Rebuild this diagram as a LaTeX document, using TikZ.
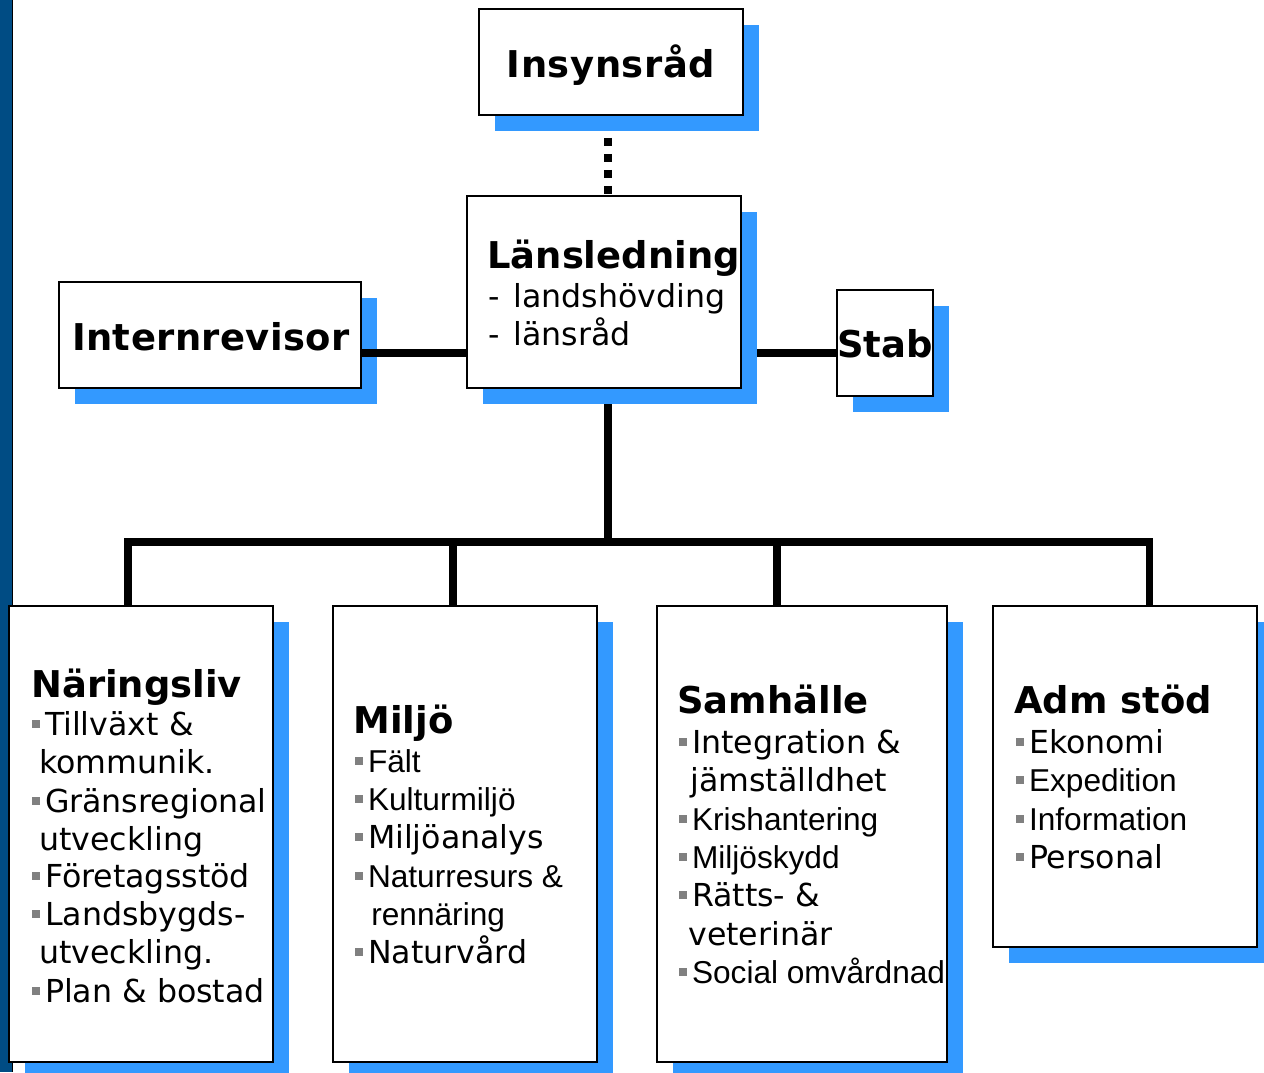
\documentclass[tikz,border=0pt]{standalone}
\usepackage{fontspec}
\setmainfont{DejaVu Sans}
\newfontfamily\ar{Liberation Sans}
\usetikzlibrary{shadows,backgrounds}
\definecolor{shad}{RGB}{51,153,255}
\definecolor{barblue}{RGB}{0,76,132}
\definecolor{bulgray}{RGB}{128,128,128}
\newcommand\bul{\textcolor{bulgray}{\rule[4.1pt]{4.6pt}{4.6pt}}\hspace{2.6pt}}
\begin{document}
\begin{tikzpicture}[x=0.02cm,y=-0.02cm,
 box/.style={draw=black, line width=1.2pt, fill=white, inner sep=0pt,
   general shadow={fill=shad, shadow xshift=0.32cm, shadow yshift=-0.32cm}},
 head/.style={inner sep=0pt, anchor=base west, font=\fontsize{21}{25}\selectfont\bfseries},
 item/.style={inner sep=0pt, anchor=base west, font=\fontsize{18}{22}\selectfont},
 conn/.style={line width=4pt},
 dots/.style={line width=4.5pt, dash pattern=on 4.54pt off 4.54pt, dash phase=5.67pt}]
\useasboundingbox (0,0) rectangle (1264,1072);
\clip (0,0) rectangle (1264,1072);
\fill[barblue] (0,0) rectangle (12,1072);
\draw[line width=0.6pt] (12.5,0) -- (12.5,1072);

% boxes
\node[box, minimum width=5.28cm, minimum height=2.12cm] (ins) at (611,62) {};
\node[box, minimum width=5.48cm, minimum height=3.84cm] (lans) at (604,292) {};
\node[box, minimum width=6.04cm, minimum height=2.12cm] (intrev) at (210,335) {};
\node[box, minimum width=1.92cm, minimum height=2.12cm] (stab) at (885,343) {};
\node[box, minimum width=5.28cm, minimum height=9.12cm] (nar) at (141,834) {};
\node[box, minimum width=5.28cm, minimum height=9.12cm] (milj) at (465,834) {};
\node[box, minimum width=5.80cm, minimum height=9.12cm] (samh) at (802,834) {};
\node[box, minimum width=5.28cm, minimum height=6.82cm] (adm) at (1125,776.5) {};

% connectors
\coordinate (bus) at (608,542);
\coordinate (hy) at (0,353);
\coordinate (d1) at (128,606);
\coordinate (d2) at (453,606);
\coordinate (d3) at (777,606);
\coordinate (d4) at (1149,606);
\begin{scope}[on background layer]
\draw[dots] (ins.south -| bus) -- (lans.north -| bus);
\draw[conn] (lans.south -| bus) -- (bus);
\draw[conn] (d1) |- (bus) -| (d4);
\draw[conn] (d2) -- (d2 |- bus);
\draw[conn] (d3) -- (d3 |- bus);
\draw[conn] (lans.east |- hy) -- (stab.west |- hy);
\end{scope}
\draw[conn] (intrev.east |- hy) -- (lans.west |- hy);

% top texts
\node[head, anchor=base] (tins) at (611,77) {\addfontfeature{LetterSpace=1.5}Insynsråd};
\node[head, anchor=base] (tint) at (211,350) {\addfontfeature{LetterSpace=1.2}Internrevisor};
\node[head, anchor=base] (tstab) at (885,357) {Stab};
\node[head, font=\fontsize{21}{25}\selectfont\bfseries] (tlans) at (487,268) {Länsledning};
\node[item] (tl1) at (488,307) {-\ \hspace{2pt}landshövding};
\node[item] (tl2) at (488,345) {-\ \hspace{2pt}länsråd};

% Näringsliv
\node[head] (hn) at (31,697) {Näringsliv};
\node[item] (n1) at (32,735) {\bul Tillväxt \&};
\node[item] (n2) at (39,773) {kommunik.};
\node[item] (n3) at (32,812) {\bul Gränsregional};
\node[item] (n4) at (39,850) {utveckling};
\node[item] (n5) at (32,887) {\bul Företagsstöd};
\node[item] (n6) at (32,925) {\bul Landsbygds-};
\node[item] (n7) at (39,963) {utveckling.};
\node[item] (n8) at (32,1002) {\bul Plan \& bostad};

% Miljö
\node[head] (hm) at (353,733) {Miljö};
\node[item] (m1) at (355,772) {\bul{\ar Fält}};
\node[item] (m2) at (355,810) {\bul{\ar Kulturmiljö}};
\node[item] (m3) at (355,848) {\bul Miljöanalys};
\node[item] (m4) at (355,887) {\bul{\ar Naturresurs \&}};
\node[item] (m5) at (371,925) {\ar rennäring};
\node[item] (m6) at (355,963) {\bul Naturvård};

% Samhälle
\node[head] (hs) at (677,713) {Samhälle};
\node[item] (s1) at (679,753) {\bul Integration \&};
\node[item] (s2) at (690,791) {jämställdhet};
\node[item] (s3) at (679,830) {\bul{\ar Krishantering}};
\node[item] (s4) at (679,868) {\bul{\ar Miljöskydd}};
\node[item] (s5) at (679,906) {\bul Rätts-\ \&};
\node[item] (s6) at (688,945) {veterinär};
\node[item] (s7) at (679,983) {\bul{\ar Social omvårdnad}};

% Adm stöd
\node[head] (ha) at (1014,713) {Adm stöd};
\node[item] (a1) at (1016,753) {\bul Ekonomi};
\node[item] (a2) at (1016,791) {\bul{\ar Expedition}};
\node[item] (a3) at (1016,830) {\bul{\ar Information}};
\node[item] (a4) at (1016,868) {\bul Personal};
\end{tikzpicture}
\end{document}
